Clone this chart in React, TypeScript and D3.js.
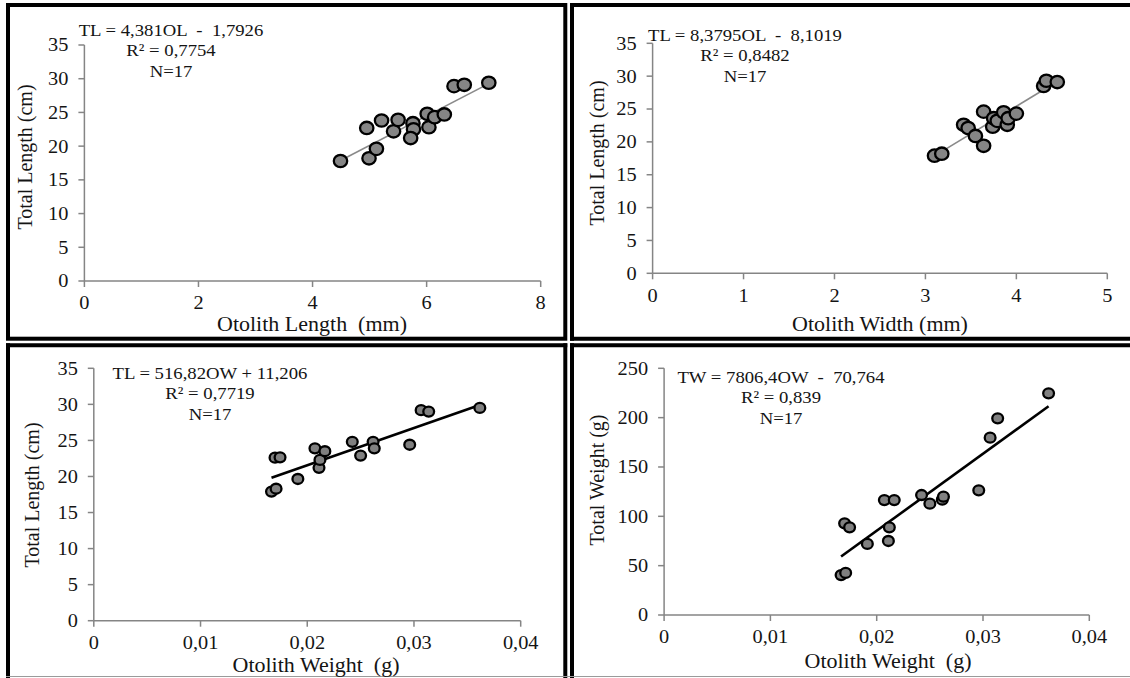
import React from "react";
import * as d3 from "d3";

// ---------- data ----------
const otolithLength = [4.49, 4.99, 5.12, 4.95, 5.21, 5.42, 5.5, 5.76, 5.77, 5.72, 6.01, 6.04, 6.14, 6.31, 6.48, 6.66, 7.09];
const totalLengthA = [17.8, 18.2, 19.6, 22.7, 23.8, 22.2, 23.9, 23.4, 22.5, 21.2, 24.8, 22.8, 24.3, 24.7, 28.9, 29.1, 29.4];

const otolithWidth = [3.1, 3.18, 3.42, 3.47, 3.55, 3.64, 3.64, 3.74, 3.75, 3.79, 3.86, 3.9, 3.91, 4.0, 4.3, 4.33, 4.45];
const totalLengthB = [17.9, 18.2, 22.6, 22.1, 20.9, 19.4, 24.6, 22.3, 23.6, 23.2, 24.5, 22.6, 23.6, 24.3, 28.5, 29.3, 29.1];

const otolithWeight = [0.01665, 0.01708, 0.01698, 0.01745, 0.01912, 0.02072, 0.0211, 0.02119, 0.02165, 0.02422, 0.025, 0.02617, 0.02628, 0.0296, 0.03067, 0.03138, 0.03617];
const totalLengthC = [17.9, 18.3, 22.6, 22.65, 19.65, 23.9, 21.2, 22.3, 23.5, 24.8, 22.9, 24.8, 23.9, 24.4, 29.2, 29.0, 29.5];
const totalWeight = [40.5, 42.6, 92.9, 88.8, 72.0, 116.5, 75.0, 88.8, 116.5, 121.6, 112.8, 116.9, 119.9, 126.3, 179.7, 199.3, 224.6];

const ticksLength = [0, 2, 4, 6, 8];
const ticksWidth = [0, 1, 2, 3, 4, 5];
const ticksWeight = [0, 0.01, 0.02, 0.03, 0.04];
const ticksTL = [0, 5, 10, 15, 20, 25, 30, 35];
const ticksTW = [0, 50, 100, 150, 200, 250];

const equations = [
  ["TL = 4,381OL  -  1,7926", "R\u00B2 = 0,7754", "N=17"],
  ["TL = 8,3795OL  -  8,1019", "R\u00B2 = 0,8482", "N=17"],
  ["TL = 516,82OW + 11,206", "R\u00B2 = 0,7719", "N=17"],
  ["TW = 7806,4OW  -  70,764", "R\u00B2 = 0,839", "N=17"],
];
const fits = [
  [4.381, -1.7926],
  [8.3795, -8.1019],
  [516.82, 11.206],
  [7806.4, -70.764],
];
const xTitles = ["Otolith Length  (mm)", "Otolith Width (mm)", "Otolith Weight  (g)", "Otolith Weight  (g)"];
const yTitles = ["Total Length (cm)", "Total Length (cm)", "Total Length (cm)", "Total Weight (g)"];

// ---------- layout ----------
const FONT = "'Liberation Serif', 'Times New Roman', Times, serif";
const SX = 1.1;
const TXT = "#141414";
const AXIS = "#858585";

const fmt = (v: number) => String(+v.toFixed(4)).replace(".", ",");

type PanelCfg = {
  xs: number[];
  ys: number[];
  xDomain: [number, number];
  yDomain: [number, number];
  xRange: [number, number];
  yRange: [number, number];
  xTicks: number[];
  yTicks: number[];
  eq: string[];
  eqX: number;
  eqY: number;
  fit: number[];
  xTitle: string;
  yTitle: string;
  xTitlePos: [number, number];
  yTitlePos: [number, number];
  r: number;
  fill: string;
  lineColor: string;
  lineWidth: number;
};

const panels: PanelCfg[] = [
  {
    xs: otolithLength, ys: totalLengthA, xDomain: [0, 8], yDomain: [0, 35],
    xRange: [84.4, 540.7], yRange: [281, 45], xTicks: ticksLength, yTicks: ticksTL,
    eq: equations[0], eqX: 171, eqY: 30, fit: fits[0],
    xTitle: xTitles[0], yTitle: yTitles[0], xTitlePos: [312, 324], yTitlePos: [24, 157],
    r: 6.2, fill: "#858585", lineColor: "#8a8a8a", lineWidth: 1.6,
  },
  {
    xs: otolithWidth, ys: totalLengthB, xDomain: [0, 5], yDomain: [0, 35],
    xRange: [652.6, 1107.3], yRange: [273.3, 43.3], xTicks: ticksWidth, yTicks: ticksTL,
    eq: equations[1], eqX: 745, eqY: 35, fit: fits[1],
    xTitle: xTitles[1], yTitle: yTitles[1], xTitlePos: [880, 324], yTitlePos: [596, 153],
    r: 6.2, fill: "#858585", lineColor: "#8a8a8a", lineWidth: 1.6,
  },
  {
    xs: otolithWeight, ys: totalLengthC, xDomain: [0, 0.04], yDomain: [0, 35],
    xRange: [93.8, 520.7], yRange: [620.7, 368.3], xTicks: ticksWeight, yTicks: ticksTL,
    eq: equations[2], eqX: 210, eqY: 373, fit: fits[2],
    xTitle: xTitles[2], yTitle: yTitles[2], xTitlePos: [316, 665], yTitlePos: [31, 495],
    r: 5, fill: "#808080", lineColor: "#000", lineWidth: 2.6,
  },
  {
    xs: otolithWeight, ys: totalWeight, xDomain: [0, 0.04], yDomain: [0, 250],
    xRange: [664.1, 1089.3], yRange: [615, 368.3], xTicks: ticksWeight, yTicks: ticksTW,
    eq: equations[3], eqX: 781, eqY: 377, fit: fits[3],
    xTitle: xTitles[3], yTitle: yTitles[3], xTitlePos: [888, 661], yTitlePos: [596, 480],
    r: 5, fill: "#808080", lineColor: "#000", lineWidth: 2.6,
  },
];

function HText(props: { x: number; y: number; size: number; anchor?: string; children: React.ReactNode }) {
  const { x, y, size, anchor = "middle", children } = props;
  return (
    <text
      transform={`translate(${x},${y}) scale(${SX},1)`}
      fontSize={size}
      fontFamily={FONT}
      fill={TXT}
      textAnchor={anchor}
      dy="0.35em"
      style={{ whiteSpace: "pre" }}
    >
      {children}
    </text>
  );
}

function Panel({ cfg }: { cfg: PanelCfg }) {
  const x = d3.scaleLinear().domain(cfg.xDomain).range(cfg.xRange);
  const y = d3.scaleLinear().domain(cfg.yDomain).range(cfg.yRange);
  const [x0, x1] = d3.extent(cfg.xs) as [number, number];
  const [m, b] = cfg.fit;
  const line = d3.line<number>().x((v) => x(v)).y((v) => y(m * v + b));
  const tick = 6;
  return (
    <g>
      {/* axes */}
      <line x1={x(cfg.xDomain[0])} x2={x(cfg.xDomain[1])} y1={y(0)} y2={y(0)} stroke={AXIS} strokeWidth={1.5} />
      <line x1={x(0)} x2={x(0)} y1={y(cfg.yDomain[0])} y2={y(cfg.yDomain[1])} stroke={AXIS} strokeWidth={1.5} />
      {cfg.xTicks.map((t) => (
        <g key={"xt" + t}>
          <line x1={x(t)} x2={x(t)} y1={y(0)} y2={y(0) + tick} stroke={AXIS} strokeWidth={1.5} />
          <HText x={x(t)} y={y(0) + 22} size={18.5}>{fmt(t)}</HText>
        </g>
      ))}
      {cfg.yTicks.map((t) => (
        <g key={"yt" + t}>
          <line x1={x(0) - tick} x2={x(0)} y1={y(t)} y2={y(t)} stroke={AXIS} strokeWidth={1.5} />
          <HText x={x(0) - 16} y={y(t)} size={18.5} anchor="end">{fmt(t)}</HText>
        </g>
      ))}
      {/* trend line */}
      <path d={line([x0, x1]) || ""} stroke={cfg.lineColor} strokeWidth={cfg.lineWidth} fill="none" />
      {/* points */}
      {cfg.xs.map((v, i) => (
        <ellipse
          key={"p" + i}
          cx={x(v)}
          cy={y(cfg.ys[i])}
          rx={cfg.r * 1.08}
          ry={cfg.r}
          fill={cfg.fill}
          stroke="#000"
          strokeWidth={2.3}
        />
      ))}
      {/* equation */}
      {cfg.eq.map((s, i) => (
        <HText key={"eq" + i} x={cfg.eqX} y={cfg.eqY + i * 20.5} size={17}>{s}</HText>
      ))}
      {/* titles */}
      <HText x={cfg.xTitlePos[0]} y={cfg.xTitlePos[1]} size={20}>{cfg.xTitle}</HText>
      <text
        transform={`translate(${cfg.yTitlePos[0]},${cfg.yTitlePos[1]}) rotate(-90) scale(1,${SX})`}
        fontSize={20}
        fontFamily={FONT}
        fill={TXT}
        textAnchor="middle"
        dy="0.35em"
      >
        {cfg.yTitle}
      </text>
    </g>
  );
}

export default function App() {
  return (
    <svg
      width={1130}
      height={678}
      viewBox="0 0 1130 678"
      style={{ position: "absolute", left: 0, top: 0, background: "#fff" }}
    >
      <rect x={0} y={0} width={1130} height={678} fill="#fff" />
      {/* frames */}
      <g stroke="#000" strokeWidth={4} fill="none">
        <rect x={8} y={5} width={557.3} height={333.7} />
        <line x1={572} x2={572} y1={3} y2={340.7} />
        <line x1={570} x2={1130} y1={5} y2={5} />
        <line x1={570} x2={1130} y1={338.7} y2={338.7} />
        <line x1={8} x2={8} y1={343.3} y2={678} />
        <line x1={6} x2={567.3} y1={345.3} y2={345.3} />
        <line x1={565.3} x2={565.3} y1={343.3} y2={678} />
        <line x1={572} x2={572} y1={343.3} y2={678} />
        <line x1={570} x2={1130} y1={345.3} y2={345.3} />
      </g>
      <line x1={6} x2={1130} y1={676.5} y2={676.5} stroke="#9a9a9a" strokeWidth={1} />
      {panels.map((p, i) => (
        <Panel key={i} cfg={p} />
      ))}
    </svg>
  );
}
